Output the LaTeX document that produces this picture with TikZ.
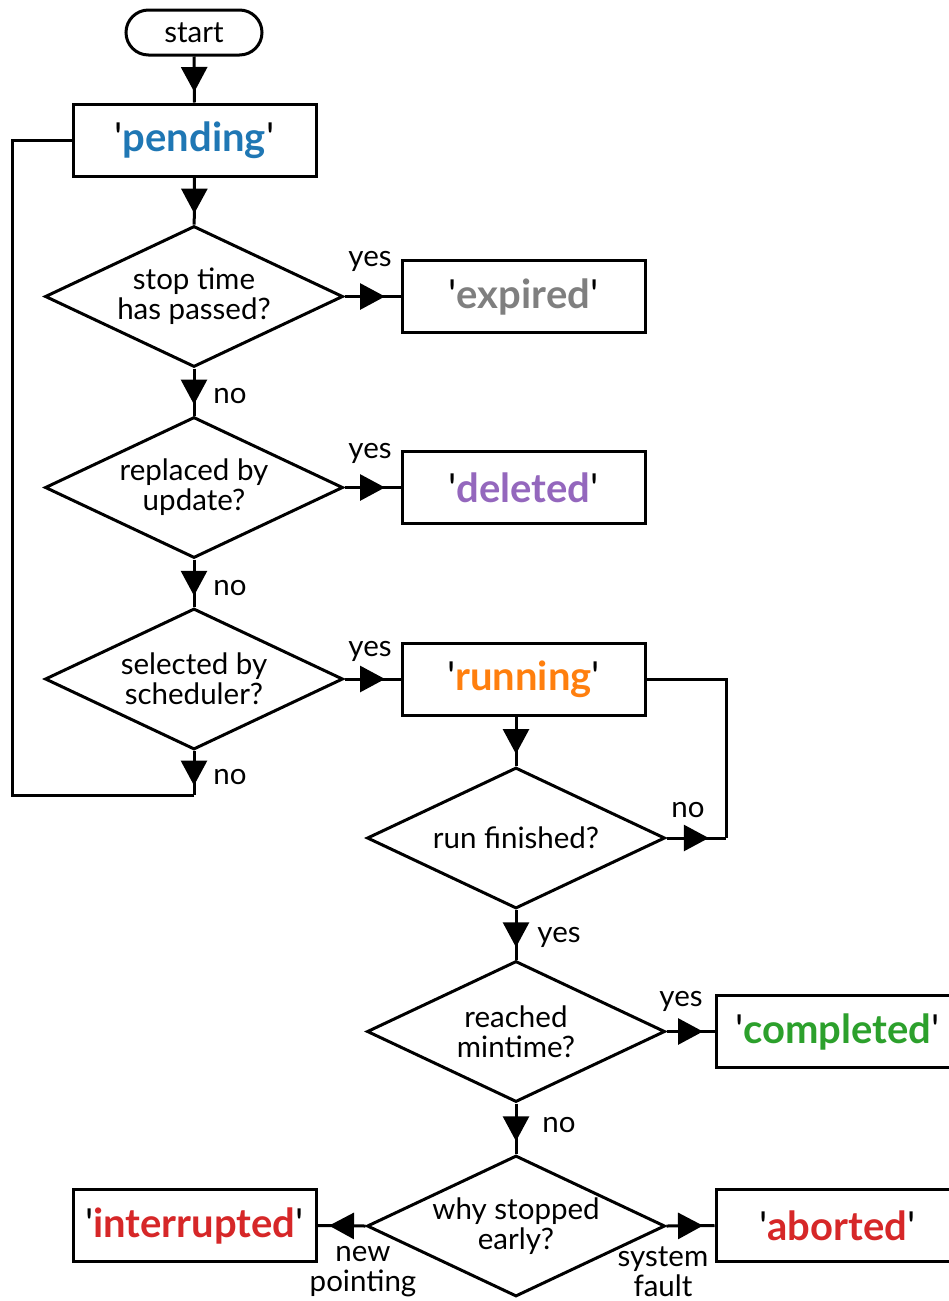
\documentclass[tikz,border=0pt]{standalone}
\usepackage{fontspec}
\setmainfont{Lato}
\usetikzlibrary{shapes.geometric,arrows.meta,decorations.markings}

\definecolor{stblue}{HTML}{1F77B4}
\definecolor{stgray}{HTML}{7F7F7F}
\definecolor{stpurple}{HTML}{9467BD}
\definecolor{storange}{HTML}{FF7F0E}
\definecolor{stgreen}{HTML}{2CA02C}
\definecolor{stred}{HTML}{D62728}

% a state name in bold colour between plain straight quotes
\newcommand{\stname}[2]{\textquotesingle\textbf{\color{#1}#2}\textquotesingle}

\tikzset{
  txt/.style={font=\fontsize{29.5}{30}\selectfont},
  terminal/.style={draw, line width=3pt, rounded corners=22.5pt,
    minimum width=136pt, minimum height=45pt, inner sep=0pt, txt},
  statebox/.style={draw, line width=3pt, minimum width=243pt,
    minimum height=72pt, inner sep=0pt, font=\fontsize{40}{44}\selectfont},
  decision/.style={diamond, draw, line width=3pt, minimum width=298pt,
    minimum height=141pt, aspect=2.11, inner sep=0pt, align=center, txt},
  lbl/.style={inner sep=0pt, align=center, txt},
  wire/.style={line width=3pt},
  flow/.style={wire, postaction={decorate}, decoration={markings,
    mark=at position 0.5 with {\arrow[xshift=12.5pt]{Triangle[length=25pt,width=26pt]}}}},
}

\begin{document}
\begin{tikzpicture}[x=1pt, y=-1pt]
  \useasboundingbox (0,0) rectangle (949,1301);
  \clip (0,0) rectangle (949,1301);

  % nodes
  \node[terminal] (start) at (194,32.5) {start};
  \node[statebox] (pending) at (194.5,140) {\stname{stblue}{pending}};
  \node[decision] (d1) at (194,296.5) {stop time\\has passed?};
  \node[statebox] (expired) at (523.5,296.5) {\stname{stgray}{expired}};
  \node[decision] (d2) at (194,487.5) {replaced by\\update?};
  \node[statebox] (deleted) at (523.5,487.5) {\stname{stpurple}{deleted}};
  \node[decision] (d3) at (194,679) {selected by\\scheduler?};
  \node[statebox] (running) at (523.5,679.5) {\stname{storange}{running}};
  \node[decision] (d4) at (516,838) {run finished?};
  \node[decision] (d5) at (516,1031.5) {reached\\mintime?};
  \node[statebox] (completed) at (837.5,1031.5) {\stname{stgreen}{completed}};
  \node[decision] (d6) at (516,1226) {why stopped\\early?};
  \node[statebox] (interrupted) at (194.5,1225.5) {\stname{stred}{interrupted}};
  \node[statebox] (aborted) at (837.5,1225.5) {\stname{stred}{aborted}};

  % turning points of the loops
  \coordinate (l1) at (194,795);
  \coordinate (l2) at (726,838);

  % connectors
  \draw[flow] (start) -- (pending);
  \draw[flow] (pending) -- (d1);
  \draw[flow] (d1.east) -- (expired.west);
  \draw[flow] (d1) -- (d2);
  \draw[flow] (d2.east) -- (deleted.west);
  \draw[flow] (d2) -- (d3);
  \draw[flow] (d3.east) -- (running.west |- d3.east);
  \draw[flow] (d3.south) -- (l1);
  \draw[wire] (l1) -- (12,795) -- (12,140) -- (pending.west);
  \draw[flow] (d4.north |- running.south) -- (d4.north);
  \draw[flow] (d4.east) -- (l2);
  \draw[wire] (l2) -- (726,679.5) -- (running.east);
  \draw[flow] (d4) -- (d5);
  \draw[flow] (d5.east) -- (completed.west);
  \draw[flow] (d5) -- (d6);
  \draw[flow] (d6.west) -- (interrupted.east);
  \draw[flow] (d6.east) -- (aborted.west);

  % branch labels
  \node[lbl] (y1) at (370,261) {yes};
  \node[lbl] (n1) at (230,396) {no};
  \node[lbl] (y2) at (370,453) {yes};
  \node[lbl] (n2) at (230,588) {no};
  \node[lbl] (y3) at (370,651) {yes};
  \node[lbl] (n3) at (230,777) {no};
  \node[lbl] (n4) at (688,810) {no};
  \node[lbl] (y4) at (559,937) {yes};
  \node[lbl] (y5) at (681,1001) {yes};
  \node[lbl] (n5) at (559,1125) {no};
  \node[lbl] (np) at (363,1272) {new\\pointing};
  \node[lbl] (sf) at (663,1272) {system\\fault};
\end{tikzpicture}
\end{document}
